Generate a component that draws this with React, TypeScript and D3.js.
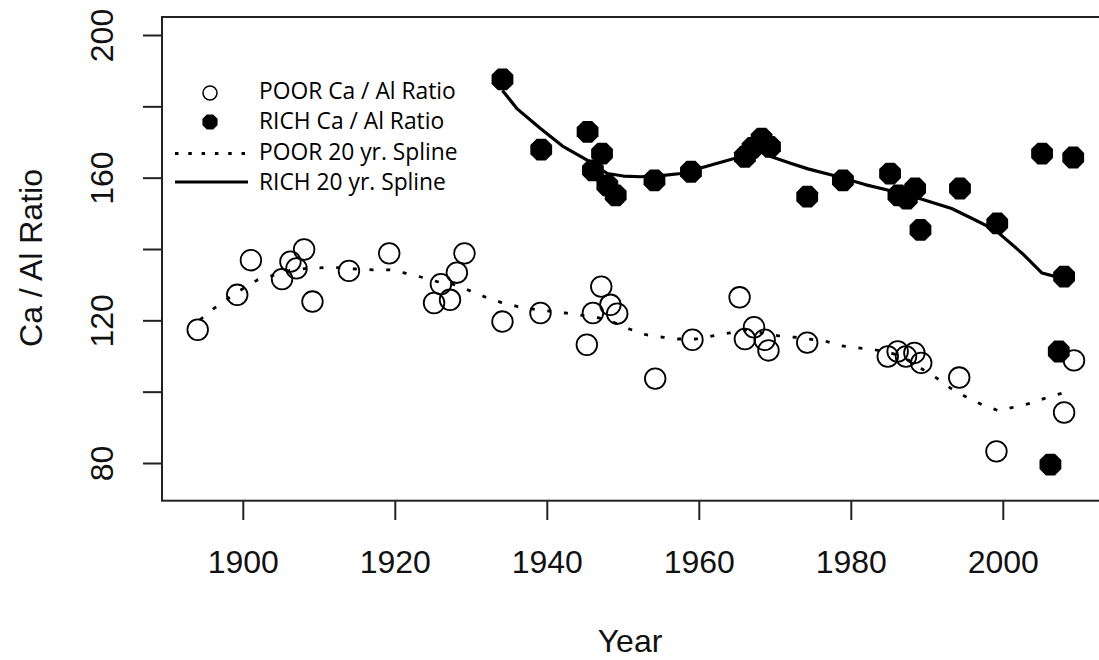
import React from "react";
import * as d3 from "d3";

const poorYear = [1894, 1899.2, 1901, 1905.1, 1906.2, 1907, 1908, 1909.1, 1913.9, 1919.2, 1925.1, 1926, 1927.2, 1928.1, 1929.1, 1934.1, 1939.1, 1945.2, 1946, 1947.1, 1948.3, 1949.2, 1954.2, 1959.1, 1965.3, 1966, 1967.2, 1968.6, 1969.1, 1974.2, 1984.8, 1986.1, 1987.2, 1988.3, 1989.2, 1994.2, 1999.1, 2008, 2009.3];
const poorVal = [117.5, 127.3, 137, 131.7, 136.6, 134.7, 140, 125.4, 134, 138.9, 125, 130.3, 125.9, 133.5, 138.9, 119.8, 122.2, 113.3, 122.2, 129.6, 124.5, 122, 103.8, 114.7, 126.6, 114.9, 118.2, 114.7, 111.7, 113.9, 110, 111.4, 110, 111, 108.2, 104.1, 83.4, 94.3, 108.9];

const richYear = [1934.1, 1939.2, 1945.3, 1946, 1947.2, 1947.9, 1949, 1954.1, 1958.9, 1966, 1967, 1968.2, 1969.3, 1974.2, 1978.9, 1985.1, 1986.2, 1987.3, 1988.4, 1989.1, 1994.3, 1999.2, 2005.1, 2006.2, 2007.3, 2008, 2009.2];
const richVal = [187.7, 168, 173, 162.2, 166.9, 158, 155.2, 159.4, 161.8, 166, 168.5, 171.1, 168.8, 154.8, 159.4, 161.3, 155.2, 154.3, 157.1, 145.5, 157.1, 147.3, 166.9, 79.7, 111.4, 132.4, 165.8];

const poorSplineYear = [1894.3, 1896.1, 1899, 1901.9, 1904.2, 1906.4, 1908.4, 1910.6, 1912.8, 1915, 1917, 1919.3, 1921.5, 1923.7, 1925.5, 1927.3, 1929.5, 1931.7, 1933.9, 1936.1, 1939, 1942.4, 1944.6, 1946.8, 1948.8, 1950.8, 1953, 1955.2, 1957.2, 1959.5, 1961.8, 1964, 1966.2, 1968.4, 1970.4, 1972.6, 1974.5, 1976.6, 1978.7, 1980.9, 1983.1, 1985.5, 1987.5, 1989.3, 1991.2, 1993, 1995, 1997.2, 1999.4, 2001.6, 2003.8, 2006, 2008.1];
const poorSplineVal = [120.3, 123.4, 127.8, 131.5, 132.9, 134.3, 134.7, 134.9, 134.9, 134.5, 134.3, 134.3, 133.3, 132.1, 131, 130.5, 128.7, 126.8, 125.2, 124, 123, 122.2, 121.5, 120.8, 119.5, 117.7, 116.1, 115.4, 114.9, 114.9, 115.8, 116.6, 117.5, 116.6, 115.8, 115.4, 114.9, 114.3, 113, 112.4, 111.9, 110.8, 109, 106.5, 104, 101.2, 98.8, 96.5, 94.8, 95.9, 97, 98.7, 99.9];

const richSplineYear = [1934.1, 1936, 1939.1, 1942, 1945.3, 1947.9, 1950, 1952.3, 1955, 1957.6, 1961.1, 1964.6, 1967.7, 1969.5, 1972, 1974.3, 1978.3, 1981.8, 1984.9, 1989.3, 1993.2, 1995.9, 1998.9, 2002.5, 2005.1, 2006.9, 2008];
const richSplineVal = [184.6, 179.5, 173.9, 169, 165, 161.3, 160.6, 160.4, 160.7, 161.3, 163.4, 165.5, 167.8, 166, 164.2, 162.6, 160.4, 158.2, 156.6, 154.1, 151.5, 148.7, 145.5, 138.9, 133.4, 132.4, 132.4];

const xTicks = [1900, 1920, 1940, 1960, 1980, 2000];
const yTicks = [80, 100, 120, 140, 160, 180, 200];
const yTickLabels = [80, 120, 160, 200];

const legendLabels = ["POOR Ca / Al Ratio", "RICH Ca / Al Ratio", "POOR 20 yr. Spline", "RICH 20 yr. Spline"];

const W = 1099;
const H = 660;
const box = { left: 162, top: 17, right: 1110, bottom: 500.7 };

const x = d3.scaleLinear().domain([1900, 2000]).range([243.3, 1003.3]);
const y = d3.scaleLinear().domain([80, 200]).range([463.5, 35.5]);

function octagon(cx: number, cy: number, r: number) {
  const pts: [number, number][] = d3.range(8).map((i) => {
    const a = (Math.PI / 8) + (i * Math.PI) / 4;
    return [cx + r * Math.cos(a), cy + r * Math.sin(a)];
  });
  return "M" + pts.map((p) => p.join(",")).join("L") + "Z";
}

const axisFont = "Liberation Sans, Arial, sans-serif";
const legendFont = "'Open Sans', Lato, sans-serif";

export default function App() {
  const line = d3.line<[number, number]>().x((d) => x(d[0])).y((d) => y(d[1])).curve(d3.curveLinear);
  const poorSpline = line(poorSplineYear.map((v, i) => [v, poorSplineVal[i]]));
  const richSpline = line(richSplineYear.map((v, i) => [v, richSplineVal[i]]));

  return (
    <svg width={W} height={H} style={{ position: "absolute", left: 0, top: 0, background: "#fff" }}>
      <rect x={0} y={0} width={W} height={H} fill="#fff" />
      <rect x={box.left} y={box.top} width={box.right - box.left} height={box.bottom - box.top} fill="none" stroke="#222" strokeWidth={2} />
      {yTicks.map((t) => (
        <line key={"yt" + t} x1={143} x2={box.left} y1={y(t)} y2={y(t)} stroke="#222" strokeWidth={2} />
      ))}
      {yTickLabels.map((t) => (
        <text key={"yl" + t} transform={`translate(113,${y(t)}) rotate(-90)`} textAnchor="middle" fontFamily={axisFont} fontSize={32} fill="#111">{t}</text>
      ))}
      {xTicks.map((t) => (
        <line key={"xt" + t} x1={x(t)} x2={x(t)} y1={box.bottom} y2={520} stroke="#222" strokeWidth={2} />
      ))}
      {xTicks.map((t) => (
        <text key={"xl" + t} x={x(t)} y={573} textAnchor="middle" fontFamily={axisFont} fontSize={32} fill="#111">{t}</text>
      ))}
      <text x={630} y={652} textAnchor="middle" fontFamily={axisFont} fontSize={32} fill="#111">Year</text>
      <text transform={`translate(42,258) rotate(-90)`} textAnchor="middle" fontFamily={axisFont} fontSize={32} fill="#111">Ca / Al Ratio</text>

      <path d={poorSpline || ""} fill="none" stroke="#000" strokeWidth={2.8} strokeDasharray="4 12.7" />
      <path d={richSpline || ""} fill="none" stroke="#000" strokeWidth={3.2} strokeLinejoin="round" />

      {richYear.map((yr, i) => (
        <path key={"r" + i} d={octagon(x(yr), y(richVal[i]), 11.8)} fill="#000" />
      ))}
      {poorYear.map((yr, i) => (
        <circle key={"p" + i} cx={x(yr)} cy={y(poorVal[i])} r={10.3} fill="none" stroke="#000" strokeWidth={1.8} />
      ))}

      <circle cx={210} cy={93} r={7} fill="none" stroke="#000" strokeWidth={1.5} />
      <path d={octagon(210, 122, 8.2)} fill="#000" />
      <line x1={175} x2={248} y1={153.5} y2={153.5} stroke="#000" strokeWidth={2.8} strokeDasharray="3.5 9.8" />
      <line x1={175} x2={248} y1={182} y2={182} stroke="#000" strokeWidth={3} />
      {legendLabels.map((s, i) => (
        <text key={"lg" + i} x={259} y={[99, 129, 160, 190][i]} fontFamily={legendFont} fontSize={22.8} fill="#000">{s}</text>
      ))}
    </svg>
  );
}
